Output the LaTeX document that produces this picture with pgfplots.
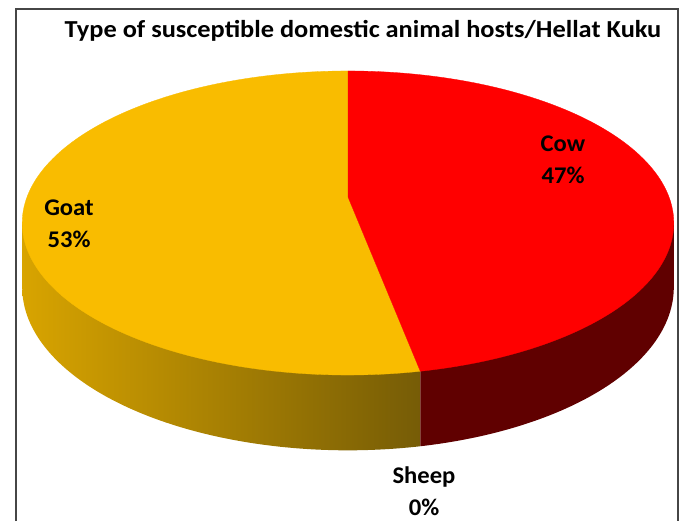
\documentclass[border=0pt]{standalone}
\usepackage{pgfplots}
\pgfplotsset{compat=1.18}
\usepackage{pgfplotstable}
\usepackage{graphicx}
\usepackage{fontspec}
\setmainfont{Carlito}

\definecolor{cowtop}{RGB}{255,0,0}
\definecolor{cowside}{RGB}{96,0,0}
\definecolor{goattop}{RGB}{249,188,0}
\definecolor{goatsideL}{RGB}{216,164,0}
\definecolor{goatsideR}{RGB}{118,92,6}
\definecolor{framecol}{RGB}{70,70,70}

% slice order as drawn clockwise from 12 o'clock
\pgfplotstableread{
animal percent
Cow 47
Sheep 0
Goat 53
}\piedata

\begin{document}
\begin{tikzpicture}
\pgfplotstablegetelem{0}{percent}\of\piedata \let\pcow\pgfplotsretval
\pgfplotstablegetelem{1}{percent}\of\piedata \let\psheep\pgfplotsretval
\pgfplotstablegetelem{2}{percent}\of\piedata \let\pgoat\pgfplotsretval
% perspective pie geometry (pixel coordinates)
\def\cx{348}\def\cy{197}\def\A{321}\def\B{147.6}\def\k{0.171}\def\D{62.4}
\pgfmathsetmacro\split{90-3.6*\pcow}
\pgfmathsetmacro\gstart{\split-3.6*\psheep}
\pgfmathsetmacro\gend{\gstart-3.6*\pgoat}
\pgfmathsetmacro\sil{asin(\k)}
\pgfmathsetmacro\lsil{-180+\sil}
\pgfmathsetmacro\rsil{-\sil}
\pgfmathsetmacro\sx{\cx+\A*cos(\split)/(1+\k*sin(\split))}
\pgfmathsetmacro\sy{\cy-\B*sin(\split)/(1+\k*sin(\split))}
\pgfmathsetmacro\lx{\cx+\A*cos(\lsil)/(1+\k*sin(\lsil))}
\pgfmathsetmacro\ly{\cy-\B*sin(\lsil)/(1+\k*sin(\lsil))}
\pgfmathsetmacro\rx{\cx+\A*cos(\rsil)/(1+\k*sin(\rsil))}
\pgfmathsetmacro\ry{\cy-\B*sin(\rsil)/(1+\k*sin(\rsil))}
\begin{axis}[
  scale only axis, width=683bp, height=521bp,
  xmin=0, xmax=683, ymin=0, ymax=521, y dir=reverse,
  hide axis, clip=false, samples=150,
]
\path (0,0) rectangle (683,521);
% sides
\addplot[draw=none, left color=goatsideL, right color=goatsideR, domain=\lsil:\split]
  ({\cx+\A*cos(x)/(1+\k*sin(x))},{\cy-\B*sin(x)/(1+\k*sin(x))+\D/(1+\k*sin(x))})
  -- (\sx,\sy) -- (\lx,\ly) -- cycle;
\addplot[draw=none, fill=cowside, domain=\split:\rsil]
  ({\cx+\A*cos(x)/(1+\k*sin(x))},{\cy-\B*sin(x)/(1+\k*sin(x))+\D/(1+\k*sin(x))})
  -- (\rx,\ry) -- (\sx,\sy) -- cycle;
% top faces
\addplot[draw=goattop, line width=0.3pt, fill=goattop, domain=\gend:\gstart]
  ({\cx+\A*cos(x)/(1+\k*sin(x))},{\cy-\B*sin(x)/(1+\k*sin(x))}) -- (\cx,\cy) -- cycle;
\addplot[draw=cowtop, line width=0.3pt, fill=cowtop, domain=\split:90]
  ({\cx+\A*cos(x)/(1+\k*sin(x))},{\cy-\B*sin(x)/(1+\k*sin(x))}) -- (\cx,\cy) -- cycle;
% frame
\draw[framecol, line width=1.4bp] (16,521) -- (16,9) -- (678,9) -- (678,521);
% title
\node[anchor=base, font=\bfseries\fontsize{24.5}{28}\selectfont] at (363,38)
  {\scalebox{1.08}[1]{Type of susceptible domestic animal hosts/Hellat Kuku}};
% labels
\node[anchor=base, font=\bfseries\fontsize{24}{28}\selectfont] at (563,151) {\scalebox{1.03}[1]{Cow}};
\node[anchor=base, font=\bfseries\fontsize{24}{28}\selectfont] at (563,183) {\scalebox{1.03}[1]{\pcow\%}};
\node[anchor=base, font=\bfseries\fontsize{24}{28}\selectfont] at (69,215) {\scalebox{1.03}[1]{Goat}};
\node[anchor=base, font=\bfseries\fontsize{24}{28}\selectfont] at (69,247) {\scalebox{1.03}[1]{\pgoat\%}};
\node[anchor=base, font=\bfseries\fontsize{24}{28}\selectfont] at (424,483) {\scalebox{1.03}[1]{Sheep}};
\node[anchor=base, font=\bfseries\fontsize{24}{28}\selectfont] at (424,515) {\scalebox{1.03}[1]{\psheep\%}};
\end{axis}
\end{tikzpicture}
\end{document}
